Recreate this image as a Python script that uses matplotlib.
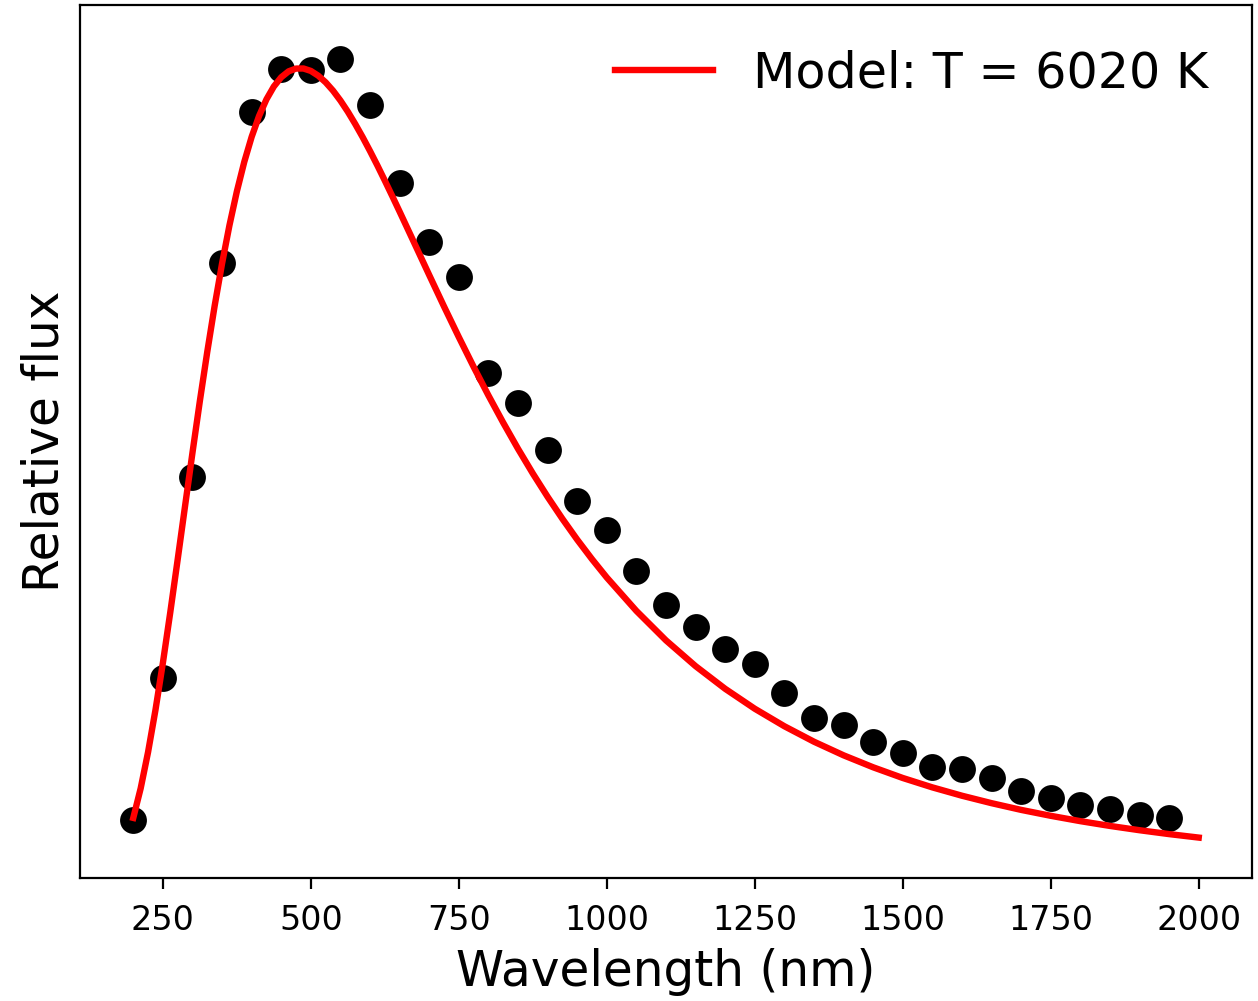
import matplotlib
matplotlib.use("Agg")
import matplotlib.pyplot as plt

# Observed data points (wavelength in nm, relative flux)
obs_wavelength = [200, 250, 300, 350, 400, 450, 500, 550, 600, 650, 700, 750,
                  800, 850, 900, 950, 1000, 1050, 1100, 1150, 1200, 1250, 1300,
                  1350, 1400, 1450, 1500, 1550, 1600, 1650, 1700, 1750, 1800,
                  1850, 1900, 1950]
obs_flux = [0.072, 0.247, 0.495, 0.759, 0.946, 0.999, 0.998, 1.011, 0.954,
            0.858, 0.785, 0.742, 0.624, 0.586, 0.529, 0.465, 0.430, 0.379,
            0.337, 0.310, 0.283, 0.264, 0.229, 0.198, 0.189, 0.168, 0.154,
            0.137, 0.134, 0.124, 0.107, 0.099, 0.090, 0.085, 0.078, 0.074]

# Model curve values
model_wavelength = [200, 212.5, 225, 237.5, 250, 262.5, 275, 287.5, 300, 312.5,
                    325, 337.5, 350, 362.5, 375, 387.5, 400, 412.5, 425, 437.5,
                    450, 462.5, 475, 487.5, 500, 512.5, 525, 537.5, 550, 562.5,
                    575, 587.5, 600, 612.5, 625, 637.5, 650, 675, 700, 725, 750,
                    775, 800, 825, 850, 875, 900, 925, 950, 975, 1000, 1050,
                    1100, 1150, 1200, 1250, 1300, 1350, 1400, 1450, 1500, 1550,
                    1600, 1650, 1700, 1750, 1800, 1850, 1900, 1950, 2000]
model_flux = [0.0742, 0.1107, 0.1555, 0.2075, 0.2655, 0.3280, 0.3932, 0.4594,
              0.5251, 0.5890, 0.6497, 0.7066, 0.7588, 0.8060, 0.8478, 0.8842,
              0.9152, 0.9409, 0.9615, 0.9774, 0.9888, 0.9961, 0.9995, 0.9996,
              0.9966, 0.9907, 0.9825, 0.9722, 0.9600, 0.9462, 0.9310, 0.9148,
              0.8976, 0.8797, 0.8611, 0.8421, 0.8228, 0.7837, 0.7445, 0.7057,
              0.6679, 0.6312, 0.5959, 0.5622, 0.5300, 0.4995, 0.4707, 0.4435,
              0.4178, 0.3937, 0.3710, 0.3298, 0.2934, 0.2616, 0.2336, 0.2090,
              0.1874, 0.1683, 0.1515, 0.1367, 0.1235, 0.1119, 0.1016, 0.0924,
              0.0841, 0.0768, 0.0702, 0.0643, 0.0590, 0.0542, 0.0499]

model_label = "Model: T = 6020 K"
xticks = [250, 500, 750, 1000, 1250, 1500, 1750, 2000]

fig = plt.figure(figsize=(6.29, 5.005), dpi=200)
ax = fig.add_axes([80/1258, 1 - 878/1001, (1252 - 80)/1258, (878 - 5)/1001])

ax.scatter(obs_wavelength, obs_flux, s=75, color="black", zorder=1)
ax.plot(model_wavelength, model_flux, color="red", lw=2.3, label=model_label,
        zorder=2, solid_joinstyle="round")

ax.set_xticks(xticks)
ax.set_xlim(110, 2090)
ax.set_ylim(0, 1.078)
ax.set_yticks([])
ax.tick_params(axis="x", labelsize=12, length=4, pad=5.5)
ax.set_xlabel("Wavelength (nm)", fontsize=17.5)
ax.set_ylabel("Relative flux", fontsize=17.5)
ax.legend(loc="upper right", frameon=False, fontsize=17.7)

fig.savefig("out.png", dpi=200)
